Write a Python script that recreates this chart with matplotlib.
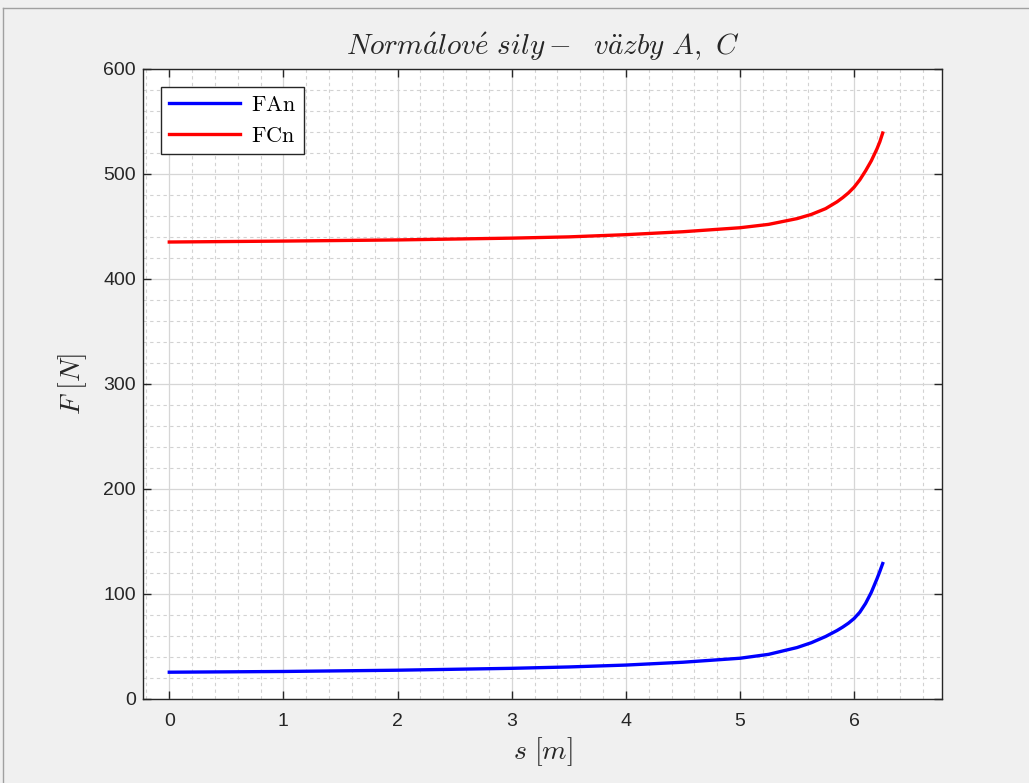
import matplotlib.pyplot as plt
from matplotlib.ticker import MultipleLocator
from matplotlib.lines import Line2D

plt.rcParams['mathtext.fontset'] = 'cm'
plt.rcParams['font.family'] = ['Liberation Sans', 'DejaVu Sans']

# values
s = [0, 1, 2, 3, 3.5, 4, 4.5, 5, 5.25, 5.5, 5.625, 5.75, 5.85, 5.9, 5.95,
     6.0, 6.05, 6.1, 6.15, 6.2, 6.225, 6.25]
FAn = [25.5, 26.2, 27.4, 29.2, 30.5, 32.3, 35.0, 38.8, 42.5, 49.0, 53.6,
       59.5, 65.2, 68.5, 72.2, 76.7, 82.7, 91.0, 101.5, 114.5, 121.5, 129.0]
FCn = [435.2, 436.1, 437.2, 438.9, 440.1, 442.2, 445.0, 448.8, 452.0, 457.5,
       461.5, 467.0, 473.5, 477.5, 482.0, 487.5, 494.5, 503.0, 512.5, 524.0,
       530.7, 539.0]

TEXT = '#262626'
BG = '#f0f0f0'

fig = plt.figure(figsize=(10.29, 7.83), dpi=100, facecolor=BG)
ax = fig.add_axes([0.139, 0.1073, 0.7765, 0.8046])

ax.plot(s, FAn, color='#0000ff', lw=2.4, label=r'$\mathrm{FAn}$')
ax.plot(s, FCn, color='#ff0000', lw=2.4, label=r'$\mathrm{FCn}$')

ax.set_xlim(-0.23, 6.77)
ax.set_ylim(0, 600)
ax.xaxis.set_major_locator(MultipleLocator(1))
ax.xaxis.set_minor_locator(MultipleLocator(0.2))
ax.yaxis.set_major_locator(MultipleLocator(100))
ax.yaxis.set_minor_locator(MultipleLocator(20))

ax.grid(which='major', color='#d6d6d6', lw=0.9, ls='-')
ax.grid(which='minor', color='#d2d2d2', lw=0.8, ls=(0, (3, 3)))
ax.set_axisbelow(True)

ax.tick_params(which='major', direction='in', length=6, width=1, top=True,
               right=True, labelsize=14, colors=TEXT)
ax.tick_params(axis='x', pad=10)
ax.tick_params(axis='y', pad=5)
ax.tick_params(which='minor', length=0)
for sp in ax.spines.values():
    sp.set_color(TEXT)
    sp.set_linewidth(1)

ax.set_title(r'$Norm\acute{a}lov\acute{e}\ sily-\ \ v\ddot{a}zby\ A,\ C$',
             fontsize=21, color=TEXT, pad=10)
ax.set_xlabel(r'$s\ [m]$', fontsize=20, color=TEXT, labelpad=4)
ax.set_ylabel(r'$F\ [N]$', fontsize=20, color=TEXT, labelpad=10)

leg = ax.legend(loc='upper left', fontsize=16, fancybox=False, framealpha=1,
                edgecolor=TEXT, handlelength=3.2, borderaxespad=0.8,
                labelspacing=0.45, handletextpad=0.5, borderpad=0.35)
leg.get_frame().set_linewidth(1)

# window frame of the screenshot
fig.add_artist(Line2D([0.003, 1], [0.99, 0.99], color='#a0a0a0', lw=1))
fig.add_artist(Line2D([0.003, 0.003], [0, 0.99], color='#a0a0a0', lw=1))

fig.savefig('out.png', dpi=100, facecolor=BG)
